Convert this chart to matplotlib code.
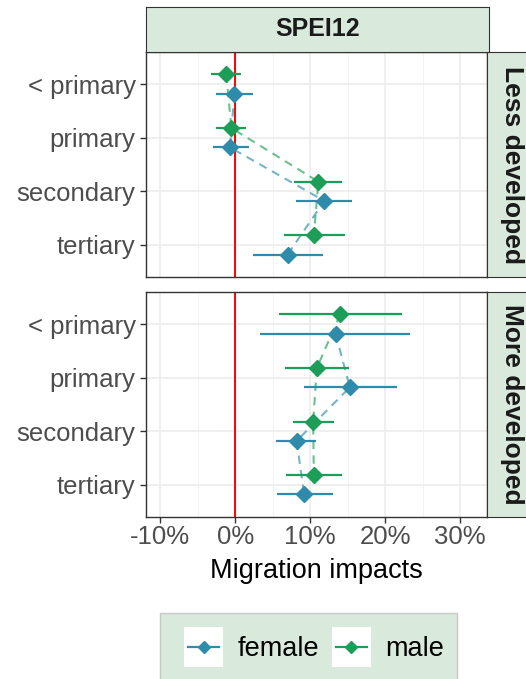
import numpy as np
import matplotlib
matplotlib.use("Agg")
import matplotlib.pyplot as plt
from matplotlib.lines import Line2D
from matplotlib.patches import Rectangle
from matplotlib.legend_handler import HandlerBase
from matplotlib.ticker import FuncFormatter, MultipleLocator

plt.rcParams['font.family'] = ['Liberation Sans', 'DejaVu Sans']

# data (percent), order: < primary, primary, secondary, tertiary
levels = ["< primary", "primary", "secondary", "tertiary"]
panels = ["Less developed", "More developed"]

less_female = [-0.1, -0.7, 11.9, 7.0]
less_female_lo = [-2.5, -3.0, 8.1, 2.4]
less_female_hi = [2.4, 1.8, 15.6, 11.7]
less_male = [-1.2, -0.5, 11.1, 10.5]
less_male_lo = [-3.2, -2.5, 7.9, 6.5]
less_male_hi = [0.8, 1.5, 14.3, 14.6]

more_female = [13.4, 15.3, 8.2, 9.2]
more_female_lo = [3.3, 9.2, 5.5, 5.6]
more_female_hi = [23.3, 21.6, 10.8, 13.0]
more_male = [14.0, 10.9, 10.4, 10.5]
more_male_lo = [5.9, 6.6, 7.7, 6.8]
more_male_hi = [22.2, 15.2, 13.2, 14.2]

col_female = "#2E8BAA"
col_male = "#1C9E58"
strip_fill = "#D9E9DB"
edge = "#333333"

W, H = 526, 679
fig = plt.figure(figsize=(W / 100, H / 100), dpi=100)

def box(x0, y0, x1, y1):
    # pixel box -> figure fraction rect
    return [x0 / W, 1 - y1 / H, (x1 - x0) / W, (y1 - y0) / H]

def pct(v, pos):
    return f"{v:.0f}%"

ypos = np.arange(len(levels))[::-1] + 1.0
dodge = 0.18

data = [
    (less_female, less_female_lo, less_female_hi, less_male, less_male_lo, less_male_hi),
    (more_female, more_female_lo, more_female_hi, more_male, more_male_lo, more_male_hi),
]
tops = [52, 292]
axes = []
for i, (f, flo, fhi, m, mlo, mhi) in enumerate(data):
    top = tops[i]
    ax = fig.add_axes(box(146, top, 487, top + 225))
    axes.append(ax)
    ax.set_xlim(-11.9, 33.6)
    ax.set_ylim(0.4, 4.6)
    ax.xaxis.set_major_locator(MultipleLocator(10))
    ax.xaxis.set_minor_locator(MultipleLocator(5))
    ax.grid(True, which="major", color="#EBEBEB", lw=1.1, zorder=0)
    ax.grid(True, which="minor", axis="x", color="#F2F2F2", lw=0.6, zorder=0)
    ax.set_axisbelow(True)
    ax.axvline(0, color="#FF0000", lw=1.4, zorder=1)

    for vals, lo, hi, col, off in [(f, flo, fhi, col_female, -dodge),
                                   (m, mlo, mhi, col_male, dodge)]:
        yy = ypos + off
        v = np.array(vals)
        ax.plot(v, yy, ls=(0, (4, 3)), color=col, alpha=0.65, lw=1.5, zorder=2)
        ax.errorbar(v, yy, xerr=[v - np.array(lo), np.array(hi) - v], fmt="none",
                    ecolor=col, elinewidth=1.6, capsize=0, zorder=3)
        ax.plot(v, yy, ls="none", marker="D", ms=8, color=col, mec=col, zorder=4)

    ax.set_yticks(ypos)
    ax.set_yticklabels(levels)
    ax.tick_params(axis="y", labelsize=18.5, labelcolor="#4D4D4D", color=edge,
                   length=4, width=1, pad=3.5)
    ax.tick_params(axis="x", which="both", length=0)
    for s in ax.spines.values():
        s.set_color(edge)
        s.set_linewidth(1)

    # right strip
    sax = fig.add_axes(box(487, top, 533, top + 225))
    sax.set_facecolor(strip_fill)
    sax.set_xticks([]); sax.set_yticks([])
    for s in sax.spines.values():
        s.set_color(edge)
    sax.text(0.55, 0.5, panels[i], rotation=-90, ha="center", va="center",
             fontsize=19, fontweight="bold", color="#1A1A1A", transform=sax.transAxes)

axes[0].tick_params(axis="x", labelbottom=False)
axes[1].xaxis.set_major_formatter(FuncFormatter(pct))
axes[1].tick_params(axis="x", which="major", length=4, width=1, color=edge,
                    labelsize=18.5, labelcolor="#4D4D4D", pad=2)
axes[1].set_xlabel("Migration impacts", fontsize=19.5, color="black", labelpad=6)

# top strip
tax = fig.add_axes(box(146, 7, 489, 52))
tax.set_facecolor(strip_fill)
tax.set_xticks([]); tax.set_yticks([])
for s in tax.spines.values():
    s.set_color(edge)
tax.text(0.5, 0.5, "SPEI12", ha="center", va="center", fontsize=18,
         fontweight="bold", color="#1A1A1A", transform=tax.transAxes)


class KeyHandler(HandlerBase):
    def create_artists(self, legend, orig, xdescent, ydescent, width, height,
                       fontsize, trans):
        col = orig.get_color()
        bg = Rectangle((-xdescent, -ydescent), width, height,
                       facecolor="white", edgecolor="none", transform=trans)
        yc = height / 2 - ydescent
        ln = Line2D([-xdescent + 3, width - xdescent - 3], [yc, yc], color=col,
                    lw=1.6, transform=trans)
        mk = Line2D([width / 2 - xdescent], [yc], ls="none", marker="D", ms=6.5,
                    color=col, transform=trans)
        return [bg, ln, mk]


# legend background box
fig.add_artist(Rectangle((160 / W, 1 - 700 / H), 297 / W, 87 / H,
                         transform=fig.transFigure, facecolor=strip_fill,
                         edgecolor="#C8C8C8", lw=1))

handles = [Line2D([], [], color=col_female), Line2D([], [], color=col_male)]
leg = fig.legend(handles, ["female", "male"], loc="center",
                 bbox_to_anchor=(314 / W, 1 - 647 / H), ncol=2, fontsize=19.5,
                 frameon=False, handler_map={Line2D: KeyHandler()},
                 handlelength=1.44, handleheight=1.9, handletextpad=0.52,
                 columnspacing=0.48, borderpad=0, borderaxespad=0)

fig.savefig("out.png", dpi=100)
